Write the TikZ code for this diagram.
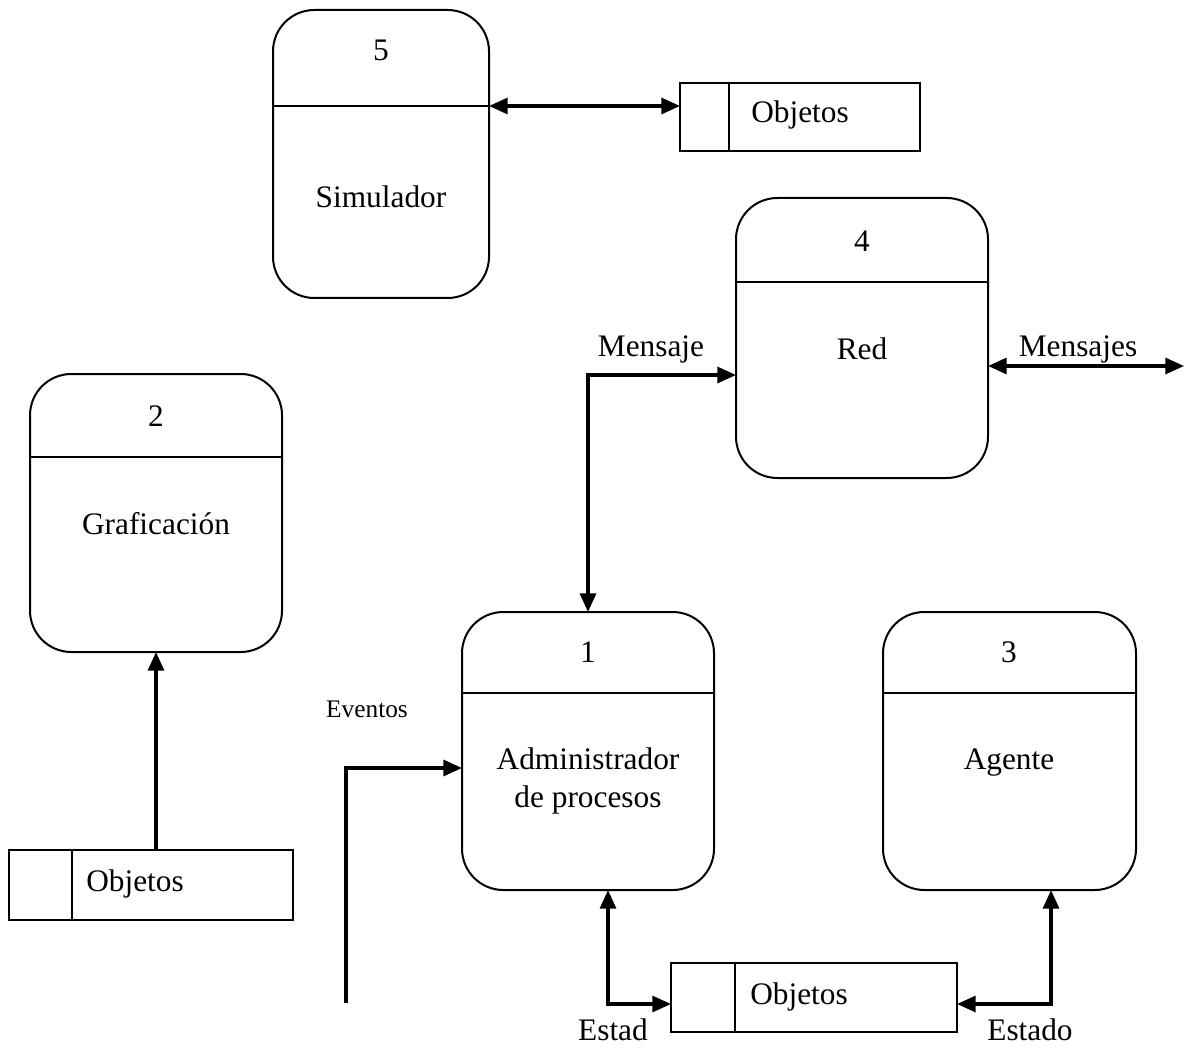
\documentclass[tikz,border=0pt]{standalone}
\usepackage{fontspec}
\setmainfont{Liberation Serif}
\usetikzlibrary{arrows.meta}
\begin{document}
\begin{tikzpicture}[x=0.75pt,y=-0.75pt,
  proc/.style={draw,line width=1.5pt,rounded corners=31pt,inner sep=0pt,outer sep=0pt},
  store/.style={draw,line width=1.5pt,inner sep=0pt,outer sep=0pt},
  sep/.style={line width=1.5pt},
  lbl/.style={inner sep=0pt,font=\fontsize{23.5}{28}\selectfont},
  small/.style={inner sep=0pt,font=\fontsize{19}{23}\selectfont},
  flow/.style={line width=2.3pt,-{Triangle[length=14pt,width=12pt]}},
  flow2/.style={line width=2.3pt,{Triangle[length=14pt,width=12pt]}-{Triangle[length=14pt,width=12pt]}}]
\useasboundingbox[fill=white] (0,0) rectangle (1184,1048);

% processes
\node[proc,minimum width=162pt,minimum height=216pt] (p5) at (381,154) {};
\node[proc,minimum width=189pt,minimum height=210pt] (p4) at (862,338) {};
\node[proc,minimum width=189pt,minimum height=208.5pt] (p2) at (156,513) {};
\node[proc,minimum width=189pt,minimum height=208.5pt] (p1) at (588,751) {};
\node[proc,minimum width=189.75pt,minimum height=208.5pt] (p3) at (1009.5,751) {};
\draw[sep] (p5.west |- 0,106) -- (p5.east |- 0,106);
\draw[sep] (p4.west |- 0,282) -- (p4.east |- 0,282);
\draw[sep] (p2.west |- 0,457) -- (p2.east |- 0,457);
\draw[sep] (p1.west |- 0,693) -- (p1.east |- 0,693);
\draw[sep] (p3.west |- 0,693) -- (p3.east |- 0,693);

\node[lbl] (p5n) at (381,50) {5};
\node[lbl] (p5t) at (381,197) {Simulador};
\node[lbl] (p4n) at (862,241) {4};
\node[lbl] (p4t) at (862,349) {Red};
\node[lbl] (p2n) at (156,416) {2};
\node[lbl] (p2t) at (156,524) {Graficación};
\node[lbl] (p1n) at (588,652) {1};
\node[lbl,align=center] (p1t) at (588,781) {Administrador\\[0pt]de procesos};
\node[lbl] (p3n) at (1009,652) {3};
\node[lbl] (p3t) at (1009,763) {Agente};

% data stores
\node[store,minimum width=180pt,minimum height=51pt] (s5) at (800,117) {};
\draw[sep] (729,0 |- s5.north) -- (729,0 |- s5.south);
\node[lbl,anchor=west] (s5t) at (751,115) {Objetos};
\node[store,minimum width=213pt,minimum height=52.5pt] (s2) at (151,885) {};
\draw[sep] (72,0 |- s2.north) -- (72,0 |- s2.south);
\node[lbl,anchor=west] (s2t) at (86,884) {Objetos};
\node[store,minimum width=214.5pt,minimum height=51.75pt] (s1) at (814,997.5) {};
\draw[sep] (735,0 |- s1.north) -- (735,0 |- s1.south);
\node[lbl,anchor=west] (s1t) at (750,997) {Objetos};

% flows
\draw[flow2] (p5.east |- 0,106) -- (s5.west |- 0,106);
\draw[flow2] (p1.north) -- (588,375) -- (p4.west |- 0,375);
\node[lbl] (mensaje) at (651,349) {Mensaje};
\coordinate (netout) at (1184,366);
\draw[flow2] (p4.east |- netout) -- (netout);
\node[lbl] (mensajes) at (1078,349) {Mensajes};
\draw[flow] (s2.north -| p2.south) -- (p2.south);
\coordinate (evin) at (346,1003);
\draw[flow] (evin) -- (346,768) -- (p1.west |- 0,768);
\node[small] (eventos) at (367,709) {Eventos};
\draw[flow2] (p1.south -| 608,0) -- (608,1004) -- (s1.west |- 0,1004);
\node[lbl] (estad) at (613,1030) {Estad};
\draw[flow2] (p3.south -| 1051,0) -- (1051,1004) -- (s1.east |- 0,1004);
\node[lbl] (estado) at (1030,1030) {Estado};
\end{tikzpicture}
\end{document}
